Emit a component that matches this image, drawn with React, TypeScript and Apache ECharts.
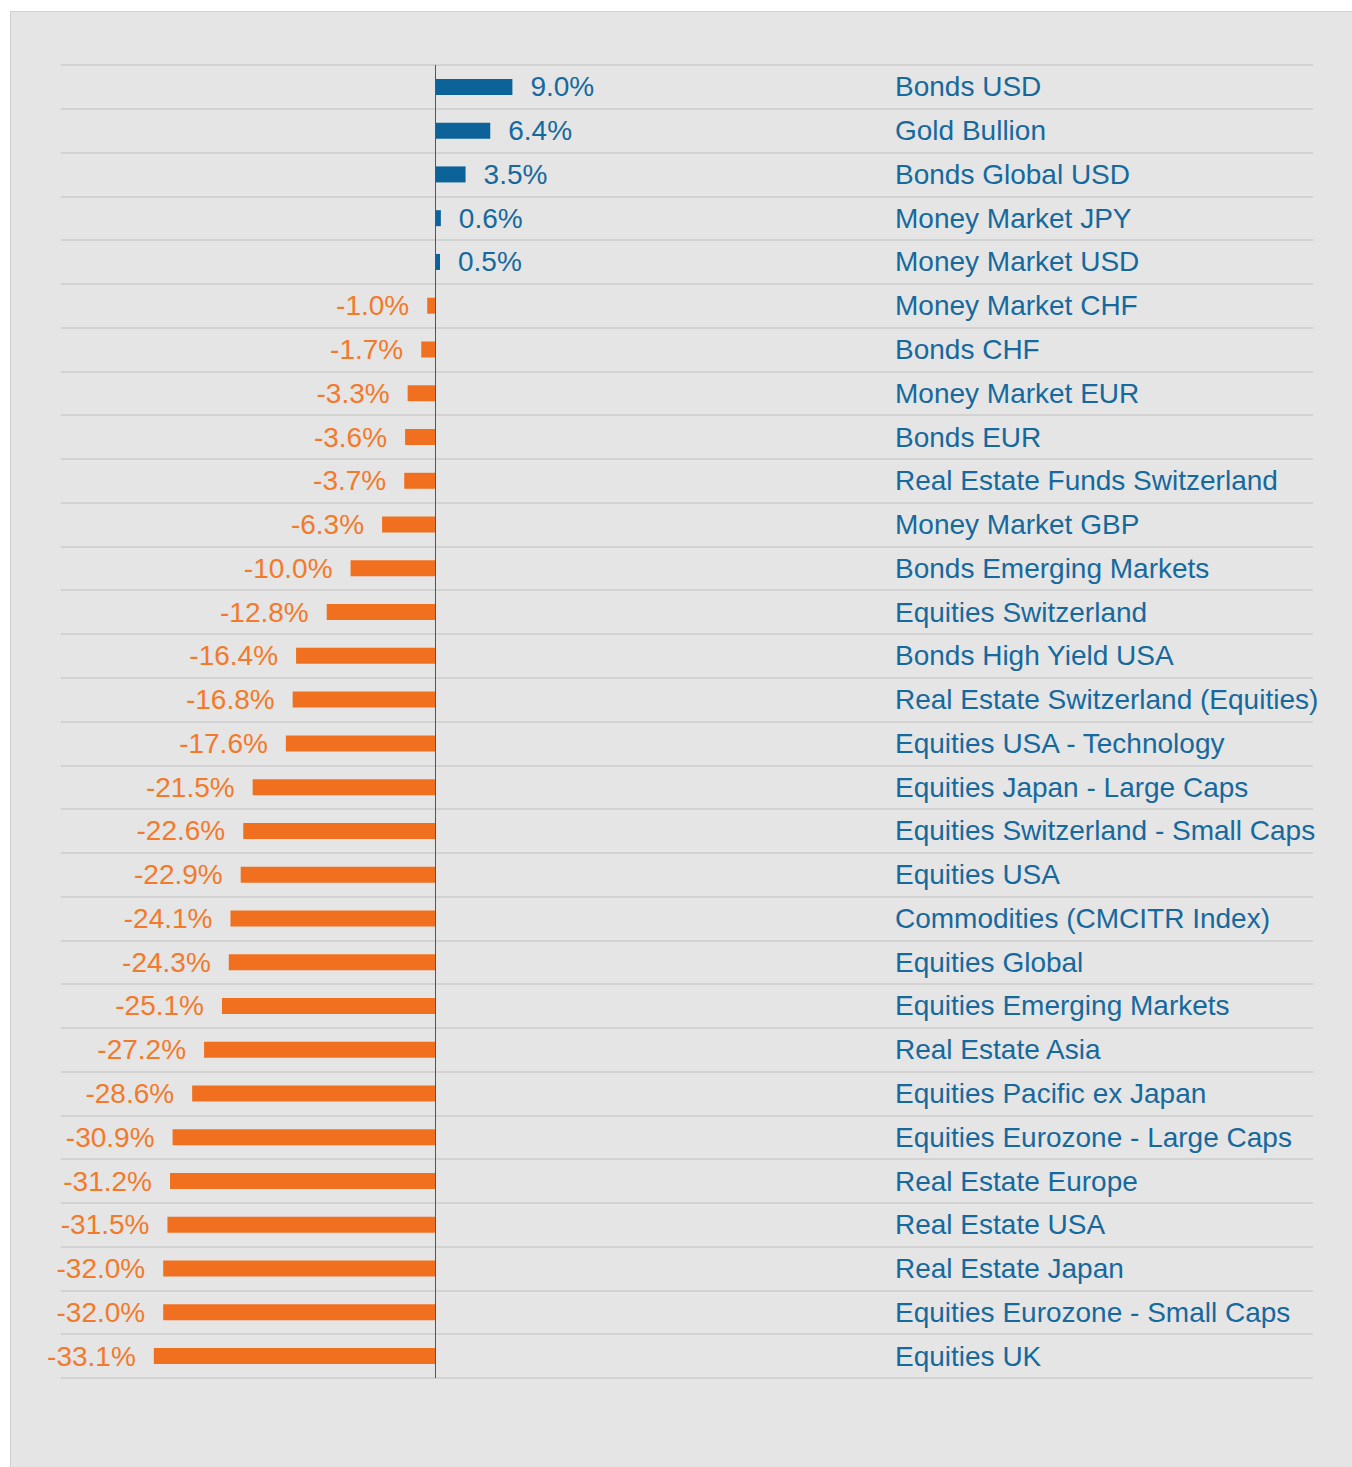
import React, { useEffect, useRef } from "react";
import * as echarts from "echarts";

const categories = [
  "Bonds USD",
  "Gold Bullion",
  "Bonds Global USD",
  "Money Market JPY",
  "Money Market USD",
  "Money Market CHF",
  "Bonds CHF",
  "Money Market EUR",
  "Bonds EUR",
  "Real Estate Funds Switzerland",
  "Money Market GBP",
  "Bonds Emerging Markets",
  "Equities Switzerland",
  "Bonds High Yield USA",
  "Real Estate Switzerland (Equities)",
  "Equities USA - Technology",
  "Equities Japan - Large Caps",
  "Equities Switzerland - Small Caps",
  "Equities USA",
  "Commodities (CMCITR Index)",
  "Equities Global",
  "Equities Emerging Markets",
  "Real Estate Asia",
  "Equities Pacific ex Japan",
  "Equities Eurozone - Large Caps",
  "Real Estate Europe",
  "Real Estate USA",
  "Real Estate Japan",
  "Equities Eurozone - Small Caps",
  "Equities UK",
];

const values = [
  9.0, 6.4, 3.5, 0.6, 0.5, -1.0, -1.7, -3.3, -3.6, -3.7, -6.3, -10.0, -12.8,
  -16.4, -16.8, -17.6, -21.5, -22.6, -22.9, -24.1, -24.3, -25.1, -27.2, -28.6,
  -30.9, -31.2, -31.5, -32.0, -32.0, -33.1,
];

const BLUE = "#0b6399";
const BLUE_TEXT = "#16699d";
const ORANGE = "#f07020";
const ORANGE_TEXT = "#f27a2a";
const FONT = "'Liberation Sans', Arial, sans-serif";

export default function App() {
  const ref = useRef<HTMLDivElement>(null);

  useEffect(() => {
    if (!ref.current) return;
    const chart = echarts.init(ref.current, undefined, { renderer: "svg" });
    const pos = values.map((v) => (v >= 0 ? v : "-"));
    const neg = values.map((v) => (v < 0 ? v : "-"));
    chart.setOption({
      animation: false,
      backgroundColor: "transparent",
      grid: { left: 50, top: 53, width: 1252, height: 1313, containLabel: false },
      xAxis: {
        type: "value",
        min: -44,
        max: 103,
        axisLine: { show: false },
        axisTick: { show: false },
        axisLabel: { show: false },
        splitLine: { show: false },
      },
      yAxis: {
        type: "category",
        data: categories,
        inverse: true,
        axisLine: { show: false },
        axisTick: { show: false },
        axisLabel: {
          align: "left",
          margin: -834,
          color: BLUE_TEXT,
          fontSize: 28,
          fontFamily: FONT,
        },
        splitLine: { show: true, lineStyle: { color: "#cbcbcb", width: 1.5 } },
      },
      series: [
        {
          type: "bar",
          data: pos,
          barWidth: 16,
          barGap: "-100%",
          itemStyle: { color: BLUE },
          label: {
            show: true,
            position: "right",
            distance: 18,
            color: BLUE_TEXT,
            fontSize: 28,
            fontFamily: FONT,
            formatter: (p: any) => Number(p.value).toFixed(1) + "%",
          },
          markLine: {
            silent: true,
            symbol: "none",
            label: { show: false },
            lineStyle: { color: "#555555", width: 1, type: "solid" },
            data: [{ xAxis: 0 }],
          },
        },
        {
          type: "bar",
          data: neg,
          barWidth: 16,
          barGap: "-100%",
          itemStyle: { color: ORANGE },
          label: {
            show: true,
            position: "left",
            distance: 18,
            color: ORANGE_TEXT,
            fontSize: 28,
            fontFamily: FONT,
            formatter: (p: any) => Number(p.value).toFixed(1) + "%",
          },
        },
      ],
    });
    return () => chart.dispose();
  }, []);

  return (
    <div
      style={{
        position: "fixed",
        top: 11,
        left: 10,
        width: 1342,
        height: 1456,
        boxSizing: "border-box",
        borderLeft: "1px solid #d0d0d0",
        borderTop: "1px solid #d0d0d0",
        background: "#e5e5e5",
        overflow: "hidden",
      }}
    >
      <div ref={ref} style={{ width: 1341, height: 1455 }} />
    </div>
  );
}
